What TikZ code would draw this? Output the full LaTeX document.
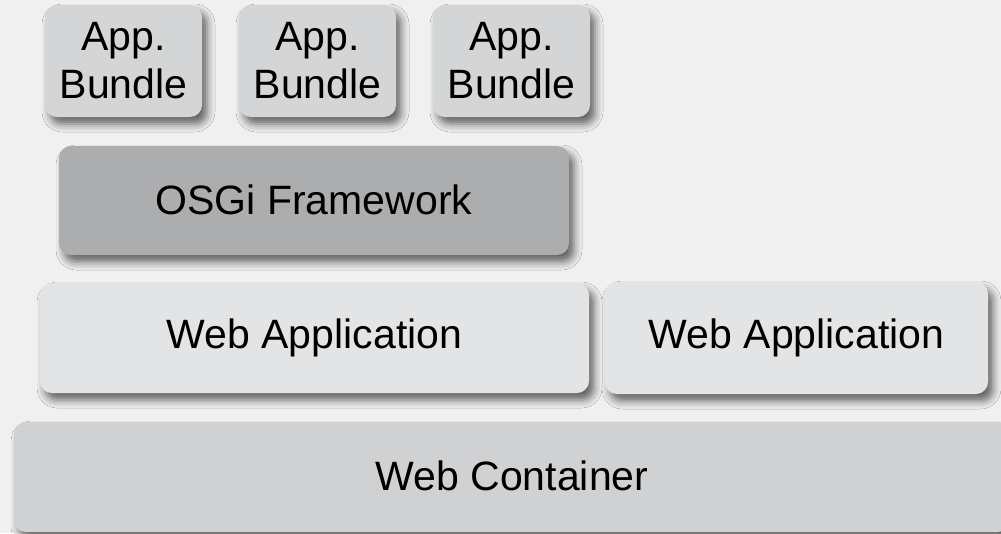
\documentclass[tikz,border=0pt]{standalone}
\usepackage{fontspec}
\setmainfont{Liberation Sans}
\usetikzlibrary{shadows.blur}
\definecolor{bg}{HTML}{F0F0F0}
\definecolor{bundlec}{HTML}{D4D5D7}
\definecolor{osgic}{HTML}{ACADAF}
\definecolor{webappc}{HTML}{E3E4E6}
\definecolor{containerc}{HTML}{D0D1D3}
\tikzset{
  layer/.style={rounded corners=12pt, inner sep=0pt, align=center,
    font=\fontsize{41}{48}\selectfont, text=black,
    blur shadow={shadow xshift=5pt, shadow yshift=-7pt, shadow blur radius=8pt, shadow opacity=60}},
}
\begin{document}
\begin{tikzpicture}[x=1pt,y=-1pt]
\fill[bg] (0,0) rectangle (1001,533);
\useasboundingbox (0,0) rectangle (1001,533);
\node[layer, fill=bundlec, minimum width=157pt, minimum height=112pt] (b1) at (123.5,61) {App.\\Bundle};
\node[layer, fill=bundlec, minimum width=157pt, minimum height=112pt] (b2) at (317.5,61) {App.\\Bundle};
\node[layer, fill=bundlec, minimum width=157pt, minimum height=112pt] (b3) at (511.5,61) {App.\\Bundle};
\node[layer, fill=osgic, minimum width=510pt, minimum height=109pt] (osgi) at (314,200.5) {\raisebox{2pt}{OSGi Framework}};
\node[layer, fill=webappc, minimum width=549pt, minimum height=110pt] (wa1) at (314.5,338) {Web Application};
\node[layer, fill=webappc, minimum width=383pt, minimum height=112pt] (wa2) at (796.5,338) {\raisebox{2pt}{Web Application}};
\node[layer, fill=containerc, minimum width=996pt, minimum height=110pt] (wc) at (512,477) {\raisebox{2pt}{Web Container}};
\end{tikzpicture}
\end{document}
